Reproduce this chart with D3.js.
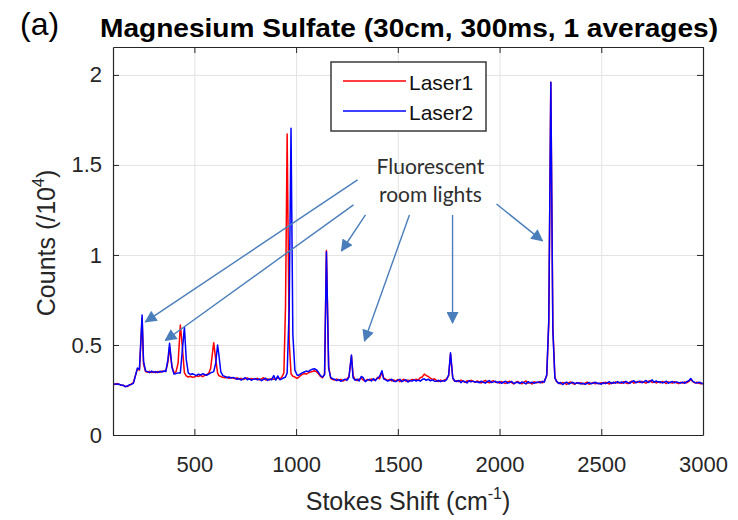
<!DOCTYPE html>
<html>
<head>
<meta charset="utf-8">
<script src="https://cdn.jsdelivr.net/npm/d3@7"></script>
<style>
  html, body { margin: 0; padding: 0; background: #fff; }
  svg { display: block; }
  text { font-family: "Liberation Sans", Arial, Helvetica, sans-serif; }
</style>
</head>
<body>
<svg id="chart" width="738" height="520"></svg>
<script>
// Raman spectrum of magnesium sulfate, two excitation lasers (counts in units of 10^4)
const shift = [
  100,110,120,130,140,150,160,170,180,190,
  200,210,220,230,243,250,260,270,280,290,
  300,310,320,330,340,350,360,370,378,390,
  400,410,420,431,440,451,460,470,480,490,
  500,510,520,530,540,550,560,570,580,595,
  605,614,620,630,640,650,660,670,680,690,
  700,710,720,730,740,750,760,770,780,790,
  800,810,820,830,840,850,860,870,880,890,
  900,910,920,930,940,948,956,966,975,984,
  994,1004,1010,1020,1030,1040,1050,1060,1070,1080,
  1090,1100,1110,1120,1130,1140,1149,1160,1170,1180,
  1190,1200,1210,1220,1230,1240,1250,1260,1272,1280,
  1290,1300,1310,1320,1330,1340,1350,1360,1370,1380,
  1390,1400,1410,1422,1430,1440,1450,1460,1470,1480,
  1490,1500,1510,1520,1530,1540,1550,1560,1570,1580,
  1590,1600,1610,1620,1630,1640,1650,1660,1670,1680,
  1690,1700,1710,1720,1730,1740,1750,1759,1770,1780,
  1790,1800,1810,1820,1830,1840,1850,1860,1870,1880,
  1890,1900,1910,1920,1930,1940,1950,1960,1970,1980,
  1990,2000,2010,2020,2030,2040,2050,2060,2070,2080,
  2090,2100,2110,2120,2130,2140,2150,2160,2170,2180,
  2190,2200,2210,2220,2232,2242,2252,2262,2272,2280,
  2290,2300,2310,2320,2330,2340,2350,2360,2370,2380,
  2390,2400,2410,2420,2430,2440,2450,2460,2470,2480,
  2490,2500,2510,2520,2530,2540,2550,2560,2570,2580,
  2590,2600,2610,2620,2630,2640,2650,2660,2670,2680,
  2690,2700,2710,2720,2730,2740,2750,2760,2770,2780,
  2790,2800,2810,2820,2830,2840,2850,2860,2870,2880,
  2890,2900,2910,2920,2930,2940,2950,2960,2970,2980,
  2990,3000
];

const laser1 = [
  .283,.281,.286,.280,.278,.275,.271,.269,.276,.284,
  .290,.330,.366,.360,.650,.395,.352,.349,.354,.347,
  .351,.346,.353,.348,.355,.352,.358,.405,.485,.380,
  .345,.352,.400,.611,.500,.345,.328,.322,.326,.321,
  .322,.329,.325,.331,.324,.330,.335,.342,.370,.513,
  .420,.345,.330,.325,.320,.318,.322,.315,.319,.316,
  .312,.318,.310,.315,.308,.313,.317,.309,.314,.311,
  .309,.315,.306,.312,.318,.305,.311,.307,.314,.309,
  .312,.318,.310,.322,.345,.720,1.672,.520,.340,.326,
  .322,.315,.318,.328,.336,.342,.338,.345,.350,.353,
  .357,.352,.340,.325,.318,.340,1.025,.380,.315,.308,
  .305,.311,.303,.309,.300,.306,.312,.325,.440,.330,
  .308,.302,.310,.316,.305,.300,.309,.304,.311,.306,
  .305,.320,.312,.348,.318,.310,.303,.309,.300,.306,
  .300,.308,.296,.303,.310,.298,.305,.301,.309,.304,
  .310,.306,.318,.322,.338,.330,.325,.316,.308,.312,
  .303,.297,.305,.300,.306,.312,.330,.450,.315,.298,
  .302,.296,.305,.299,.293,.301,.297,.304,.298,.292,
  .300,.295,.289,.298,.303,.294,.290,.297,.301,.293,
  .294,.288,.297,.291,.286,.295,.299,.290,.284,.293,
  .297,.289,.285,.294,.300,.288,.292,.283,.296,.290,
  .291,.297,.289,.300,.330,.620,1.959,.600,.320,.296,
  .289,.284,.292,.287,.281,.290,.295,.286,.282,.291,
  .285,.291,.283,.288,.294,.282,.287,.292,.284,.289,
  .284,.290,.286,.293,.288,.283,.291,.287,.295,.289,
  .292,.287,.296,.290,.285,.294,.299,.288,.293,.297,
  .291,.298,.293,.288,.297,.302,.292,.296,.289,.295,
  .290,.297,.292,.286,.295,.291,.288,.296,.290,.285,
  .293,.288,.295,.290,.298,.308,.296,.289,.294,.287,
  .284,.288
];

const laser2 = [
  .280,.284,.282,.283,.276,.277,.268,.272,.279,.281,
  .287,.328,.372,.365,.667,.410,.356,.352,.346,.355,
  .348,.352,.347,.354,.350,.356,.353,.420,.509,.375,
  .338,.342,.345,.345,.460,.598,.420,.345,.336,.340,
  .335,.330,.338,.333,.340,.336,.332,.338,.345,.352,
  .400,.500,.450,.350,.330,.325,.318,.322,.316,.320,
  .316,.309,.314,.305,.312,.318,.307,.313,.304,.310,
  .313,.306,.311,.302,.309,.315,.303,.310,.306,.330,
  .305,.328,.307,.312,.318,.322,.345,.700,1.704,.560,
  .360,.335,.330,.338,.345,.350,.355,.352,.360,.365,
  .368,.362,.348,.330,.322,.335,1.018,.370,.320,.312,
  .309,.302,.308,.298,.305,.310,.303,.322,.444,.318,
  .304,.310,.300,.325,.318,.296,.305,.309,.300,.313,
  .302,.316,.325,.357,.312,.306,.300,.304,.310,.298,
  .297,.303,.309,.296,.302,.307,.294,.303,.299,.306,
  .300,.305,.299,.308,.312,.304,.310,.301,.306,.299,
  .298,.304,.296,.302,.299,.308,.335,.457,.318,.300,
  .297,.303,.291,.300,.296,.289,.302,.295,.299,.294,
  .296,.290,.299,.293,.288,.297,.302,.291,.295,.298,
  .290,.296,.287,.293,.299,.288,.292,.297,.286,.291,
  .293,.286,.295,.290,.284,.296,.289,.294,.287,.292,
  .295,.290,.298,.293,.335,.640,1.959,.580,.316,.300,
  .286,.292,.280,.289,.294,.283,.288,.293,.285,.289,
  .290,.283,.288,.281,.286,.292,.284,.289,.293,.286,
  .288,.282,.291,.285,.290,.296,.286,.293,.288,.297,
  .289,.295,.288,.298,.292,.287,.296,.301,.290,.295,
  .299,.290,.296,.303,.291,.297,.306,.293,.300,.294,
  .296,.289,.294,.299,.288,.293,.297,.290,.295,.291,
  .289,.294,.287,.296,.301,.314,.298,.292,.288,.293,
  .290,.283
];

const seriesNames = ["Laser1", "Laser2"];
const seriesColors = ["#ff0000", "#0000ff"];

const xTicks = [500, 1000, 1500, 2000, 2500, 3000];
const xTickLabels = ["500", "1000", "1500", "2000", "2500", "3000"];
const yTicks = [0, 0.5, 1, 1.5, 2];
const yTickLabels = ["0", "0.5", "1", "1.5", "2"];

// Annotation arrows (data units): tail and head of each arrow
const arrowTail = [[1302, 1.417], [1282, 1.278], [1341, 1.222], [1557, 1.222], [1769, 1.222], [1985, 1.283]];
const arrowHead = [[259, 0.628], [357, 0.525], [1223, 1.022], [1336, 0.522], [1769, 0.622], [2211, 1.078]];
const noteLines = ["Fluorescent", "room lights"];
const noteAnchor = [1660, 1.45];

const W = 738, H = 520;
const margin = { top: 47, right: 35, bottom: 85, left: 113 };
const plotW = W - margin.left - margin.right;
const plotH = H - margin.top - margin.bottom;

const svg = d3.select("#chart");
const x = d3.scaleLinear().domain([100, 3000]).range([margin.left, margin.left + plotW]);
const y = d3.scaleLinear().domain([0, 2.155]).range([margin.top + plotH, margin.top]);

const axisColor = "#262626";

// plot background
svg.append("rect").attr("x", margin.left).attr("y", margin.top)
  .attr("width", plotW).attr("height", plotH).attr("fill", "#fff");

// grid
const grid = svg.append("g").attr("stroke", "#e3e3e3").attr("stroke-width", 1);
grid.append("g").attr("transform", `translate(0,${margin.top + plotH})`)
  .call(d3.axisBottom(x).tickValues(xTicks).tickSize(-plotH).tickFormat(""))
  .call(g => g.select(".domain").remove())
  .call(g => g.selectAll("line").attr("stroke", "#e3e3e3"));
grid.append("g").attr("transform", `translate(${margin.left},0)`)
  .call(d3.axisLeft(y).tickValues(yTicks).tickSize(-plotW).tickFormat(""))
  .call(g => g.select(".domain").remove())
  .call(g => g.selectAll("line").attr("stroke", "#e3e3e3"));

// clip to axes box
svg.append("defs").append("clipPath").attr("id", "plotClip")
  .append("rect").attr("x", margin.left).attr("y", margin.top)
  .attr("width", plotW).attr("height", plotH);

const line = d3.line().x((d, i) => x(shift[i])).y(d => y(d));
const lines = svg.append("g").attr("clip-path", "url(#plotClip)");
[laser1, laser2].forEach((vals, k) => {
  lines.append("path").datum(vals)
    .attr("fill", "none").attr("stroke", seriesColors[k])
    .attr("stroke-width", 1.5).attr("stroke-linejoin", "round")
    .attr("d", line);
});

// axes (ticks inside, box on)
function styleAxis(g) {
  g.select(".domain").attr("stroke", axisColor).attr("stroke-width", 1.2);
  g.selectAll(".tick line").attr("stroke", axisColor).attr("stroke-width", 1);
  g.selectAll(".tick text").attr("fill", "#262626")
    .style("font-family", '"Liberation Sans", Arial, sans-serif').style("font-size", "22px");
}
svg.append("g").attr("transform", `translate(0,${margin.top + plotH})`)
  .call(d3.axisBottom(x).tickValues(xTicks).tickFormat((d, i) => xTickLabels[i])
    .tickSizeInner(-6).tickSizeOuter(0).tickPadding(21))
  .call(styleAxis);
svg.append("g").attr("transform", `translate(${margin.left},0)`)
  .call(d3.axisLeft(y).tickValues(yTicks).tickFormat((d, i) => yTickLabels[i])
    .tickSizeInner(-6).tickSizeOuter(0).tickPadding(11))
  .call(styleAxis);
svg.append("g").attr("transform", `translate(0,${margin.top})`)
  .call(d3.axisTop(x).tickValues(xTicks).tickFormat("").tickSizeInner(-6).tickSizeOuter(0))
  .call(styleAxis);
svg.append("g").attr("transform", `translate(${margin.left + plotW},0)`)
  .call(d3.axisRight(y).tickValues(yTicks).tickFormat("").tickSizeInner(-6).tickSizeOuter(0))
  .call(styleAxis);

// axis labels
const xl = svg.append("text")
  .attr("x", margin.left + plotW / 2).attr("y", 510)
  .attr("text-anchor", "middle").attr("fill", "#262626").style("font-size", "25px");
xl.append("tspan").text("Stokes Shift (cm");
xl.append("tspan").attr("dy", -11).style("font-size", "16px").text("-1");
xl.append("tspan").attr("dy", 11).text(")");

const yl = svg.append("text")
  .attr("transform", `translate(55,${margin.top + plotH / 2 + 2}) rotate(-90)`)
  .attr("text-anchor", "middle").attr("fill", "#262626").style("font-size", "25px");
yl.append("tspan").text("Counts (/10");
yl.append("tspan").attr("dy", -11).style("font-size", "16px").text("4");
yl.append("tspan").attr("dy", 11).text(")");

// title and panel letter
svg.append("text").attr("x", 100).attr("y", 37)
  .attr("textLength", 618).attr("lengthAdjust", "spacingAndGlyphs")
  .attr("fill", "#000").style("font-size", "26px").style("font-weight", "bold")
  .text("Magnesium Sulfate (30cm, 300ms, 1 averages)");
svg.append("text").attr("x", 20).attr("y", 35)
  .attr("fill", "#000").style("font-size", "32px").text("(a)");

// legend
const lg = svg.append("g").attr("transform", `translate(${margin.left + 218},${margin.top + 15})`);
lg.append("rect").attr("x", 0).attr("y", 0).attr("width", 155).attr("height", 69)
  .attr("fill", "#fff").attr("stroke", "#3a3a3a").attr("stroke-width", 1.5);
seriesNames.forEach((name, k) => {
  const yy = 19 + k * 30;
  lg.append("line").attr("x1", 12).attr("x2", 75).attr("y1", yy).attr("y2", yy)
    .attr("stroke", seriesColors[k]).attr("stroke-width", 1.5);
  lg.append("text").attr("x", 78).attr("y", yy + 9)
    .attr("fill", "#111").style("font-size", "21px").text(name);
});

// annotation: arrows pointing at room-light lines
const arrowColor = "#4a7ebb";
svg.select("defs").append("marker")
  .attr("id", "arrowHead").attr("viewBox", "0 0 12 12")
  .attr("refX", 11).attr("refY", 6).attr("markerWidth", 13).attr("markerHeight", 12)
  .attr("markerUnits", "userSpaceOnUse").attr("orient", "auto")
  .append("path").attr("d", "M0,0 L12,6 L0,12 Z").attr("fill", arrowColor);

const ann = svg.append("g");
arrowTail.forEach((t, i) => {
  const h = arrowHead[i];
  ann.append("line")
    .attr("x1", x(t[0])).attr("y1", y(t[1]))
    .attr("x2", x(h[0])).attr("y2", y(h[1]))
    .attr("stroke", arrowColor).attr("stroke-width", 1.4)
    .attr("marker-end", "url(#arrowHead)");
});
const note = ann.append("text")
  .attr("x", x(noteAnchor[0])).attr("y", y(noteAnchor[1]))
  .attr("text-anchor", "middle").attr("fill", "#2e2e2e")
  .style("font-family", "Lato, 'Open Sans', sans-serif").style("font-size", "21px");
noteLines.forEach((s, i) => {
  note.append("tspan").attr("x", x(noteAnchor[0])).attr("dy", i === 0 ? 0 : 28).text(s);
});
</script>
</body>
</html>
